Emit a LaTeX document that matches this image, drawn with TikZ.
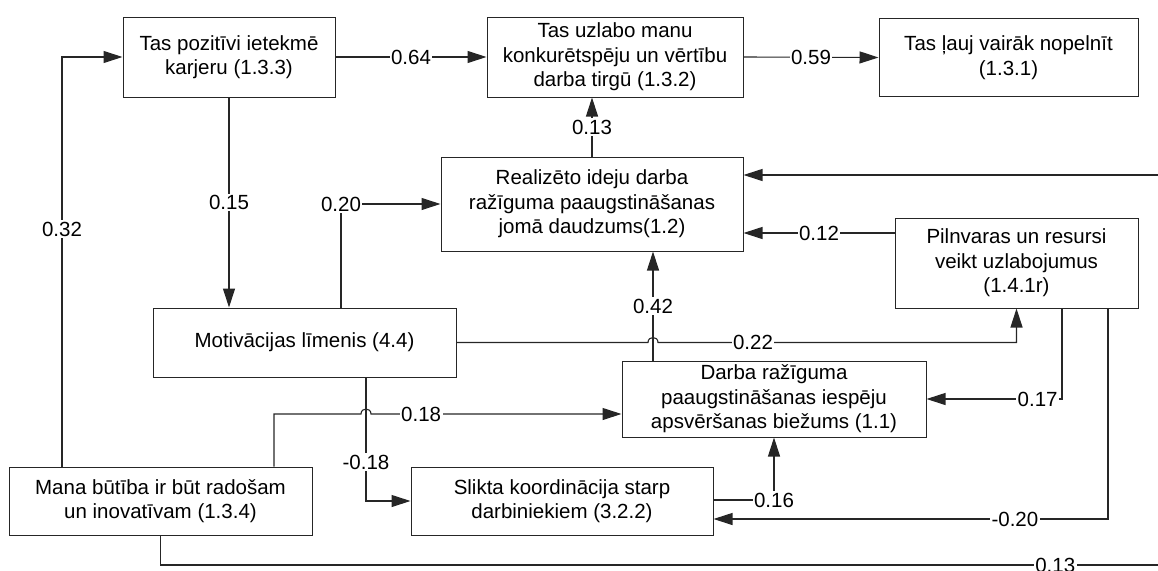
\documentclass[tikz,border=0pt]{standalone}
\usepackage{fontspec}
\setmainfont{Liberation Sans}
\usetikzlibrary{arrows.meta}
\begin{document}
\begin{tikzpicture}[x=1pt,y=-1pt,
  every node/.style={font=\fontsize{20.5}{24.5}\selectfont},
  box/.style={draw=black!85,line width=1pt,inner sep=0pt,align=center},
  wire/.style={draw=black!85,line width=1.1pt},
  arr/.style={wire,-{Triangle[length=19pt,width=12pt]}},
  lbl/.style={fill=white,inner sep=1.5pt}]
\path[use as bounding box,clip] (0,0) rectangle (1158,570);

% factors
\node[box,minimum width=212pt,minimum height=80pt] (n1) at (229,57) {Tas pozitīvi ietekmē\\karjeru (1.3.3)};
\node[box,minimum width=256pt,minimum height=80pt] (n2) at (615,57) {Tas uzlabo manu\\konkurētspēju un vērtību\\darba tirgū (1.3.2)};
\node[box,minimum width=259pt,minimum height=78pt] (n3) at (1008.5,57.5) {Tas ļauj vairāk nopelnīt\\(1.3.1)};
\node[box,minimum width=302pt,minimum height=94pt] (n4) at (592,204) {Realizēto ideju darba\\ražīguma paaugstināšanas\\jomā daudzums(1.2)};
\node[box,minimum width=243pt,minimum height=90pt] (n5) at (1016.5,263) {Pilnvaras un resursi\\veikt uzlabojumus\\(1.4.1r)};
\node[box,minimum width=303pt,minimum height=69pt] (n6) at (304.5,342.5) {Motivācijas līmenis (4.4)};
\node[box,minimum width=304pt,minimum height=76pt] (n7) at (774,399) {Darba ražīguma\\paaugstināšanas iespēju\\apsvēršanas biežums (1.1)};
\node[box,minimum width=302pt,minimum height=68pt] (n8) at (562,501) {Slikta koordinācija starp\\darbiniekiem (3.2.2)};
\node[box,minimum width=303pt,minimum height=68pt] (n9) at (160.5,501) {Mana būtība ir būt radošam\\un inovatīvam (1.3.4)};

% loose ends running off the right edge
\coordinate (edgeR) at (1175,175);
\coordinate (edgeB) at (1175,565);

% paths
\draw[arr] ([xshift=-98.5]n9.north) |- node[lbl,pos=0.29]{0.32} (n1.west);
\draw[arr] (n1.east) -- node[lbl]{0.64} (n2.west);
\draw[arr] (n2.east) -- node[lbl]{0.59} (n3.west);
\draw[arr] (n1.south) -- node[lbl]{0.15} (n1.south |- n6.north);
\draw[arr] ([xshift=36.5]n6.north) |- node[lbl,pos=0.5]{0.20} (n4.west);
\draw[arr] (n4.north) -- node[lbl]{0.13} (n4.north |- n2.south);
\draw[arr] (edgeR) -- ([yshift=29]n4.east);
\draw[arr] ([yshift=30]n5.west) -- node[lbl]{0.12} ([yshift=-29]n4.east);
\draw[arr] ([xshift=-121]n7.north) -- node[lbl]{0.42} ([xshift=61]n4.south);
\draw[arr] (n6.east) -- (648,342.5) .. controls (648,335.8) and (658,335.8) .. (658,342.5)
  -- node[lbl,pos=0.265]{0.22} (1016.5,342.5) -- (n5.south);
\draw[arr] ([xshift=45.5]n5.south) |- node[lbl,pos=0.59]{0.17} (n7.east);
\draw[arr] ([xshift=91.5]n5.south) |- node[lbl,pos=0.618]{-0.20} ([yshift=-18]n8.east);
\draw[arr] ([yshift=1]n8.east) -| node[lbl,pos=0.5]{0.16} (n7.south);
\draw[arr] ([xshift=113.5]n9.north) -- (274,414) -- (361,414) .. controls (361,407.3) and (371,407.3) .. (371,414)
  -- node[lbl,pos=0.2]{0.18} ([yshift=-15]n7.west);
\draw[arr] ([xshift=61.5]n6.south) |- node[lbl,pos=0.343]{-0.18} (n8.west);
\draw[wire] (n9.south) |- node[lbl,pos=0.941]{0.13} (edgeB);
\end{tikzpicture}
\end{document}
